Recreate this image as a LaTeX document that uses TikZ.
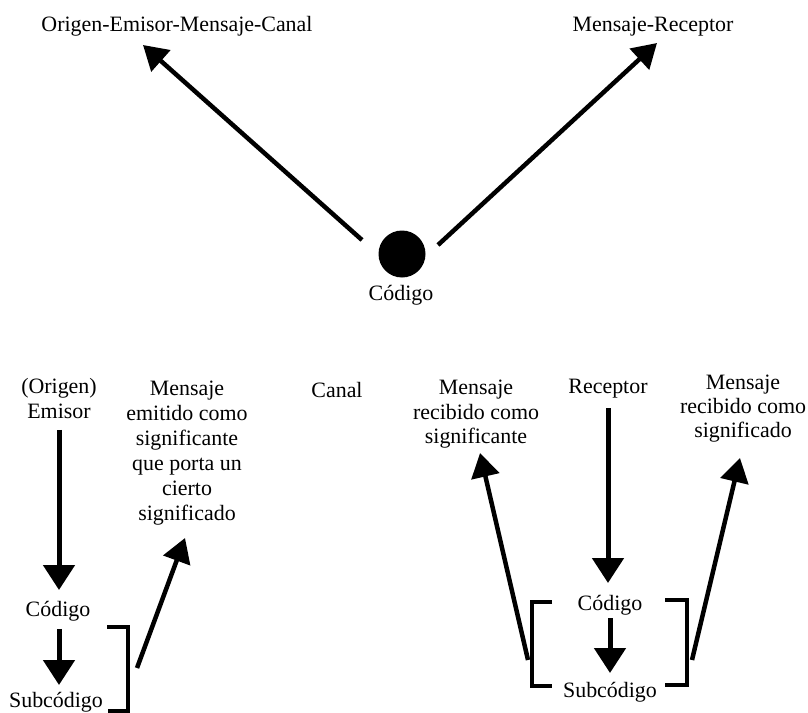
\documentclass[tikz,border=0pt]{standalone}
\usepackage{fontspec}
\setmainfont{Liberation Serif}
\usetikzlibrary{arrows.meta}
\begin{document}
\begin{tikzpicture}[x=1bp,y=-1bp,
  lbl/.style={font=\fontsize{22}{25}\selectfont, inner sep=0pt, align=center, anchor=north},
  arr/.style={line width=4.5bp, -{Triangle[length=24bp,width=28bp]}},
  varr/.style={line width=5bp, -{Triangle[length=25bp,width=31bp]}},
  brk/.style={line width=3.5bp}]
\useasboundingbox (0,0) rectangle (808,713);

% --- upper part: the code between the two ends ---
\node[lbl] (oemc) at (177,13.5) {\strut Origen-Emisor-Mensaje-Canal};
\node[lbl] (mrec) at (653,13.5) {\strut Mensaje-Receptor};
\node[circle, fill=black, minimum size=47bp, inner sep=0pt] (dot) at (402,254) {};
\node[lbl] (codtop) at (401,282.5) {\strut Código};

\coordinate (upLfoot) at (362,240);
\coordinate (upLtip)  at (143,45);
\coordinate (upRfoot) at (438,245);
\coordinate (upRtip)  at (657,43);
\draw[arr] (upLfoot) -- (upLtip);
\draw[arr] (upRfoot) -- (upRtip);

% --- lower part: emission side ---
\node[lbl] (emisor) at (59,376) {\strut (Origen)\\Emisor};
\node[lbl] (memit) at (187,378) {\strut Mensaje\\emitido como\\significante\\que porta un\\cierto\\significado};
\node[lbl] (canal) at (337,380) {\strut Canal};
\node[lbl] (codL) at (58,599) {\strut Código};
\node[lbl] (subL) at (56,689.5) {\strut Subcódigo};

\draw[varr, shorten <=11bp, shorten >=9bp] (emisor.south) -- (emisor.south |- codL.north);
\draw[varr, shorten <=4.5bp, shorten >=4.5bp] (codL.south -| emisor.south) -- (emisor.south |- subL.north);

\draw[brk] (107,627) -- (128,627) -- (128,711) -- (108,711);
\coordinate (emitFoot) at (137,668);
\coordinate (emitTip)  at (185,538);
\draw[arr] (emitFoot) -- (emitTip);

% --- lower part: reception side ---
\node[lbl] (mrsig) at (476,376.5) {\strut Mensaje\\recibido como\\significante};
\node[lbl] (receptor) at (608,375.5) {\strut Receptor};
\node[lbl, font=\fontsize{22}{24}\selectfont] (mrsigdo) at (743,373) {\strut Mensaje\\recibido como\\significado};
\node[lbl] (codR) at (610,592.5) {\strut Código};
\node[lbl] (subR) at (610,679.5) {\strut Subcódigo};

\draw[varr, shorten <=7.5bp, shorten >=9.5bp] (receptor.south) -- (receptor.south |- codR.north);
\draw[varr, shorten <=0.5bp, shorten >=6.5bp] (codR.south) -- (subR.north);

\draw[brk] (552,602) -- (532,602) -- (532,686) -- (552,686);
\draw[brk] (665,600) -- (687,600) -- (687,685) -- (665,685);

\coordinate (sigFoot) at (528,660);
\coordinate (sigTip)  at (480,453);
\coordinate (sdoFoot) at (692,660);
\coordinate (sdoTip)  at (740,458);
\draw[arr] (sigFoot) -- (sigTip);
\draw[arr] (sdoFoot) -- (sdoTip);
\end{tikzpicture}
\end{document}
